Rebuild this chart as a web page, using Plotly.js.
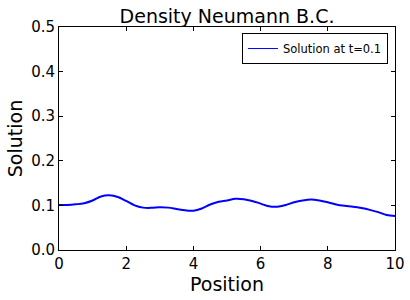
<!DOCTYPE html>
<html>
<head>
<meta charset="utf-8">
<script src="https://cdn.plot.ly/plotly-3.0.1.min.js"></script>
<style>html,body{margin:0;padding:0;background:#fff;}#plot{width:410px;height:300px;}</style>
</head>
<body>
<div id="plot"></div>
<script>
const position = [0,0.25,0.5,0.75,1.0,1.25,1.5,1.75,2.0,2.25,2.5,2.75,3.0,3.25,3.5,3.75,4.0,4.25,4.5,4.75,5.0,5.25,5.5,5.75,6.0,6.25,6.5,6.75,7.0,7.25,7.5,7.75,8.0,8.25,8.5,8.75,9.0,9.25,9.5,9.75,10];
const solution = [0.101,0.101,0.1025,0.105,0.111,0.12,0.1225,0.119,0.110,0.100,0.095,0.0945,0.096,0.095,0.092,0.089,0.088,0.093,0.102,0.108,0.111,0.115,0.114,0.110,0.104,0.098,0.097,0.101,0.107,0.111,0.113,0.111,0.107,0.102,0.099,0.097,0.094,0.090,0.085,0.0785,0.076];
const seriesName = "Solution at t=0.1";
const chartTitle = "Density Neumann B.C.";
const xTitle = "Position";
const yTitle = "Solution";

const font = "DejaVu Sans, sans-serif";
const data = [
  {x: position, y: solution, mode: "lines", line: {color: "#0000ff", width: 2, shape: "spline"}, showlegend: false, hoverinfo: "skip"},
  {x: [null], y: [null], mode: "lines", name: seriesName, line: {color: "#0000ff", width: 1}}
];
const axisCommon = {
  showgrid: false, zeroline: false, showline: true, mirror: "ticks",
  linecolor: "#000", linewidth: 1, ticks: "inside", ticklen: 4, tickcolor: "#000",
  tickfont: {family: font, size: 15, color: "#000"}
};
const layout = {
  width: 410, height: 300,
  margin: {l: 59, r: 15, t: 27, b: 50},
  paper_bgcolor: "#fff", plot_bgcolor: "#fff",
  title: {text: chartTitle, font: {family: font, size: 19, color: "#000"}, x: 0.5, xref: "paper", xanchor: "center", y: 1, yref: "paper", yanchor: "bottom", pad: {b: 4}},
  xaxis: Object.assign({}, axisCommon, {range: [0, 10], tickvals: [0,2,4,6,8,10], ticktext: ["0","2","4","6","8","10"],
    title: {text: xTitle, font: {family: font, size: 19, color: "#000"}, standoff: 0}}),
  yaxis: Object.assign({}, axisCommon, {range: [0, 0.5], tickvals: [0,0.1,0.2,0.3,0.4,0.5], tickformat: ".1f",
    title: {text: yTitle, font: {family: font, size: 19, color: "#000"}, standoff: 3}}),
  legend: {x: 0.979, xanchor: "right", y: 0.973, yanchor: "top", bgcolor: "#fff", bordercolor: "#000", borderwidth: 1,
    font: {family: font, size: 11.5, color: "#000"}, itemwidth: 30, tracegroupgap: 0}
};
Plotly.newPlot("plot", data, layout, {staticPlot: true, displayModeBar: false});
</script>
</body>
</html>
